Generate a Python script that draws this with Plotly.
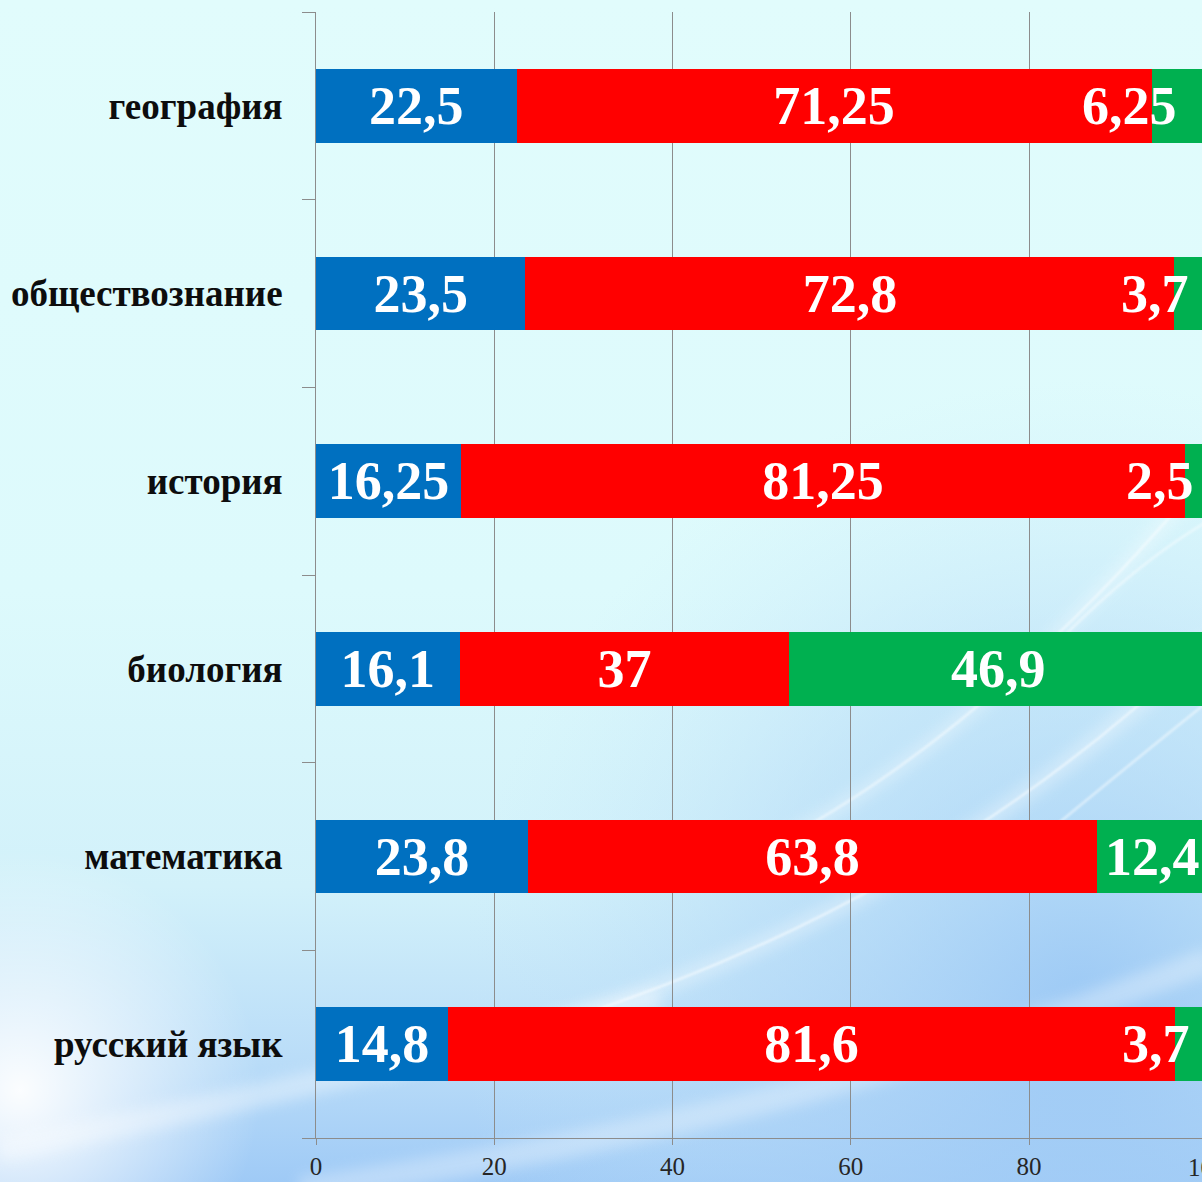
import base64
import plotly.graph_objects as go

# ---- data ----
categories = ["русский язык", "математика", "биология", "история", "обществознание", "география"]
blue_vals = [14.8, 23.8, 16.1, 16.25, 23.5, 22.5]
red_vals = [81.6, 63.8, 37, 81.25, 72.8, 71.25]
green_vals = [3.7, 12.4, 46.9, 2.5, 3.7, 6.25]
x_ticks = [0, 20, 40, 60, 80, 100]

BLUE = "#0070C0"
RED = "#FF0000"
GREEN = "#00B050"
SERIF = "Liberation Serif, Times New Roman, serif"
LABEL_SIZE = 54


def fmt(v):
    return f"{v:g}".replace(".", ",")


# ---- geometry of the page ----
W, H = 1202, 1182
ML, MR, MT, MB = 316, 0, 12, 44
XMAX = 99.4  # visible part of the 0..100 axis (the chart is cut at the right)
pw = W - ML - MR
ph = H - MT - MB

fig = go.Figure()
fig.add_trace(go.Bar(
    y=categories, x=blue_vals, orientation="h", marker=dict(color=BLUE, line=dict(width=0)),
    text=[fmt(v) for v in blue_vals], textposition="inside", insidetextanchor="middle",
    textangle=0, constraintext="none",
    insidetextfont=dict(family=SERIF, size=LABEL_SIZE, color="white", weight="bold"),
    name="blue", showlegend=False,
))
fig.add_trace(go.Bar(
    y=categories, x=red_vals, orientation="h", marker=dict(color=RED, line=dict(width=0)),
    text=[fmt(v) for v in red_vals], textposition="inside", insidetextanchor="middle",
    textangle=0, constraintext="none",
    insidetextfont=dict(family=SERIF, size=LABEL_SIZE, color="white", weight="bold"),
    name="red", showlegend=False,
))
fig.add_trace(go.Bar(
    y=categories, x=green_vals, orientation="h", marker=dict(color=GREEN, line=dict(width=0)),
    name="green", showlegend=False,
))

# green labels: centred on wide segments; on narrow ones the label ends at the segment centre
annotations = []
for cat, b, r, g in zip(categories, blue_vals, red_vals, green_vals):
    center = b + r + g / 2
    annotations.append(dict(x=center, y=cat, xref="x", yref="y", text=fmt(g),
                            showarrow=False, xanchor="center" if g >= 10 else "right",
                            font=dict(family=SERIF, size=LABEL_SIZE, color="white", weight="bold")))

# the "100" tick label lies just outside the visible window
annotations.append(dict(x=x_ticks[-1] / XMAX, y=0, xref="paper", yref="paper", text=str(x_ticks[-1]),
                        showarrow=False, xanchor="center", yanchor="top", yshift=-14,
                        font=dict(family=SERIF, size=25, color="#262626")))

# ---- background (decorative gradient + swooshes) ----
svg = f"""<svg xmlns="http://www.w3.org/2000/svg" width="{W}" height="{H}" viewBox="0 0 {W} {H}">
<defs>
<linearGradient id="g1" x1="0" y1="0" x2="0" y2="1">
<stop offset="0" stop-color="#E1FCFC"/>
<stop offset="0.5" stop-color="#DDFAFC"/>
<stop offset="0.75" stop-color="#D2F1FA"/>
<stop offset="0.9" stop-color="#B9DCF8"/>
<stop offset="1" stop-color="#9FCAF6"/>
</linearGradient>
<radialGradient id="g2" cx="1080" cy="1000" r="620" gradientUnits="userSpaceOnUse">
<stop offset="0" stop-color="#94C3F4" stop-opacity="0.8"/>
<stop offset="0.55" stop-color="#AFD5F7" stop-opacity="0.45"/>
<stop offset="1" stop-color="#C8E8FA" stop-opacity="0"/>
</radialGradient>
<radialGradient id="g3" cx="20" cy="1090" r="240" gradientUnits="userSpaceOnUse">
<stop offset="0" stop-color="#FFFFFF" stop-opacity="0.95"/>
<stop offset="1" stop-color="#FFFFFF" stop-opacity="0"/>
</radialGradient>
<filter id="b" x="-20%" y="-20%" width="140%" height="140%"><feGaussianBlur stdDeviation="7"/></filter>
<filter id="b2" x="-20%" y="-20%" width="140%" height="140%"><feGaussianBlur stdDeviation="1.2"/></filter>
</defs>
<rect width="{W}" height="{H}" fill="url(#g1)"/>
<rect width="{W}" height="{H}" fill="url(#g2)"/>
<rect width="{W}" height="{H}" fill="url(#g3)"/>
<g fill="none" stroke="#FFFFFF">
<path d="M 380 1070 Q 880 960 1210 640" stroke-width="18" opacity="0.3" filter="url(#b)"/>
<path d="M 380 1070 Q 880 960 1210 640" stroke-width="2.5" opacity="0.55" filter="url(#b2)"/>
<path d="M 700 880 Q 960 770 1210 470" stroke-width="14" opacity="0.3" filter="url(#b)"/>
<path d="M 700 880 Q 960 770 1210 470" stroke-width="2.5" opacity="0.5" filter="url(#b2)"/>
<path d="M 990 880 Q 1110 780 1210 700" stroke-width="2.5" opacity="0.5" filter="url(#b2)"/>
<path d="M 1060 640 Q 1140 560 1210 520" stroke-width="2.5" opacity="0.45" filter="url(#b2)"/>
<path d="M 300 1190 Q 800 1120 1210 960" stroke-width="26" opacity="0.3" filter="url(#b)"/>
<path d="M 0 1150 Q 300 1090 660 1000" stroke-width="24" opacity="0.35" filter="url(#b)"/>
</g>
</svg>"""
src = "data:image/svg+xml;base64," + base64.b64encode(svg.encode("utf-8")).decode("ascii")

fig.update_layout(
    width=W, height=H,
    margin=dict(l=ML, r=MR, t=MT, b=MB, pad=0),
    barmode="stack",
    bargap=0.606,
    paper_bgcolor="#E0FBFC",
    plot_bgcolor="rgba(0,0,0,0)",
    showlegend=False,
    annotations=annotations,
    images=[dict(source=src, xref="paper", yref="paper",
                 x=-ML / pw, y=1 + MT / ph, sizex=W / pw, sizey=H / ph,
                 xanchor="left", yanchor="top", sizing="stretch", layer="below")],
    xaxis=dict(
        range=[0, XMAX], tickvals=x_ticks, ticktext=[str(t) for t in x_ticks],
        showgrid=True, gridcolor="#8C8C8C", gridwidth=1,
        showline=True, linecolor="#8C8C8C", linewidth=1,
        ticks="outside", ticklen=6, tickcolor="#8C8C8C",
        tickfont=dict(family=SERIF, size=25, color="#262626"),
        zeroline=False, fixedrange=True,
    ),
    yaxis=dict(
        categoryorder="array", categoryarray=categories,
        showline=True, linecolor="#8C8C8C", linewidth=1,
        ticks="outside", ticklen=13, tickcolor="#8C8C8C", tickson="boundaries",
        ticklabelstandoff=25,
        tickfont=dict(family=SERIF, size=37, color="#0D0D0D", weight="bold"),
        showgrid=False, zeroline=False, fixedrange=True,
    ),
)

fig.write_html(
    "out.html",
    config={"displayModeBar": False},
    post_script="document.body.style.margin='0';document.body.style.overflow='hidden';",
)
